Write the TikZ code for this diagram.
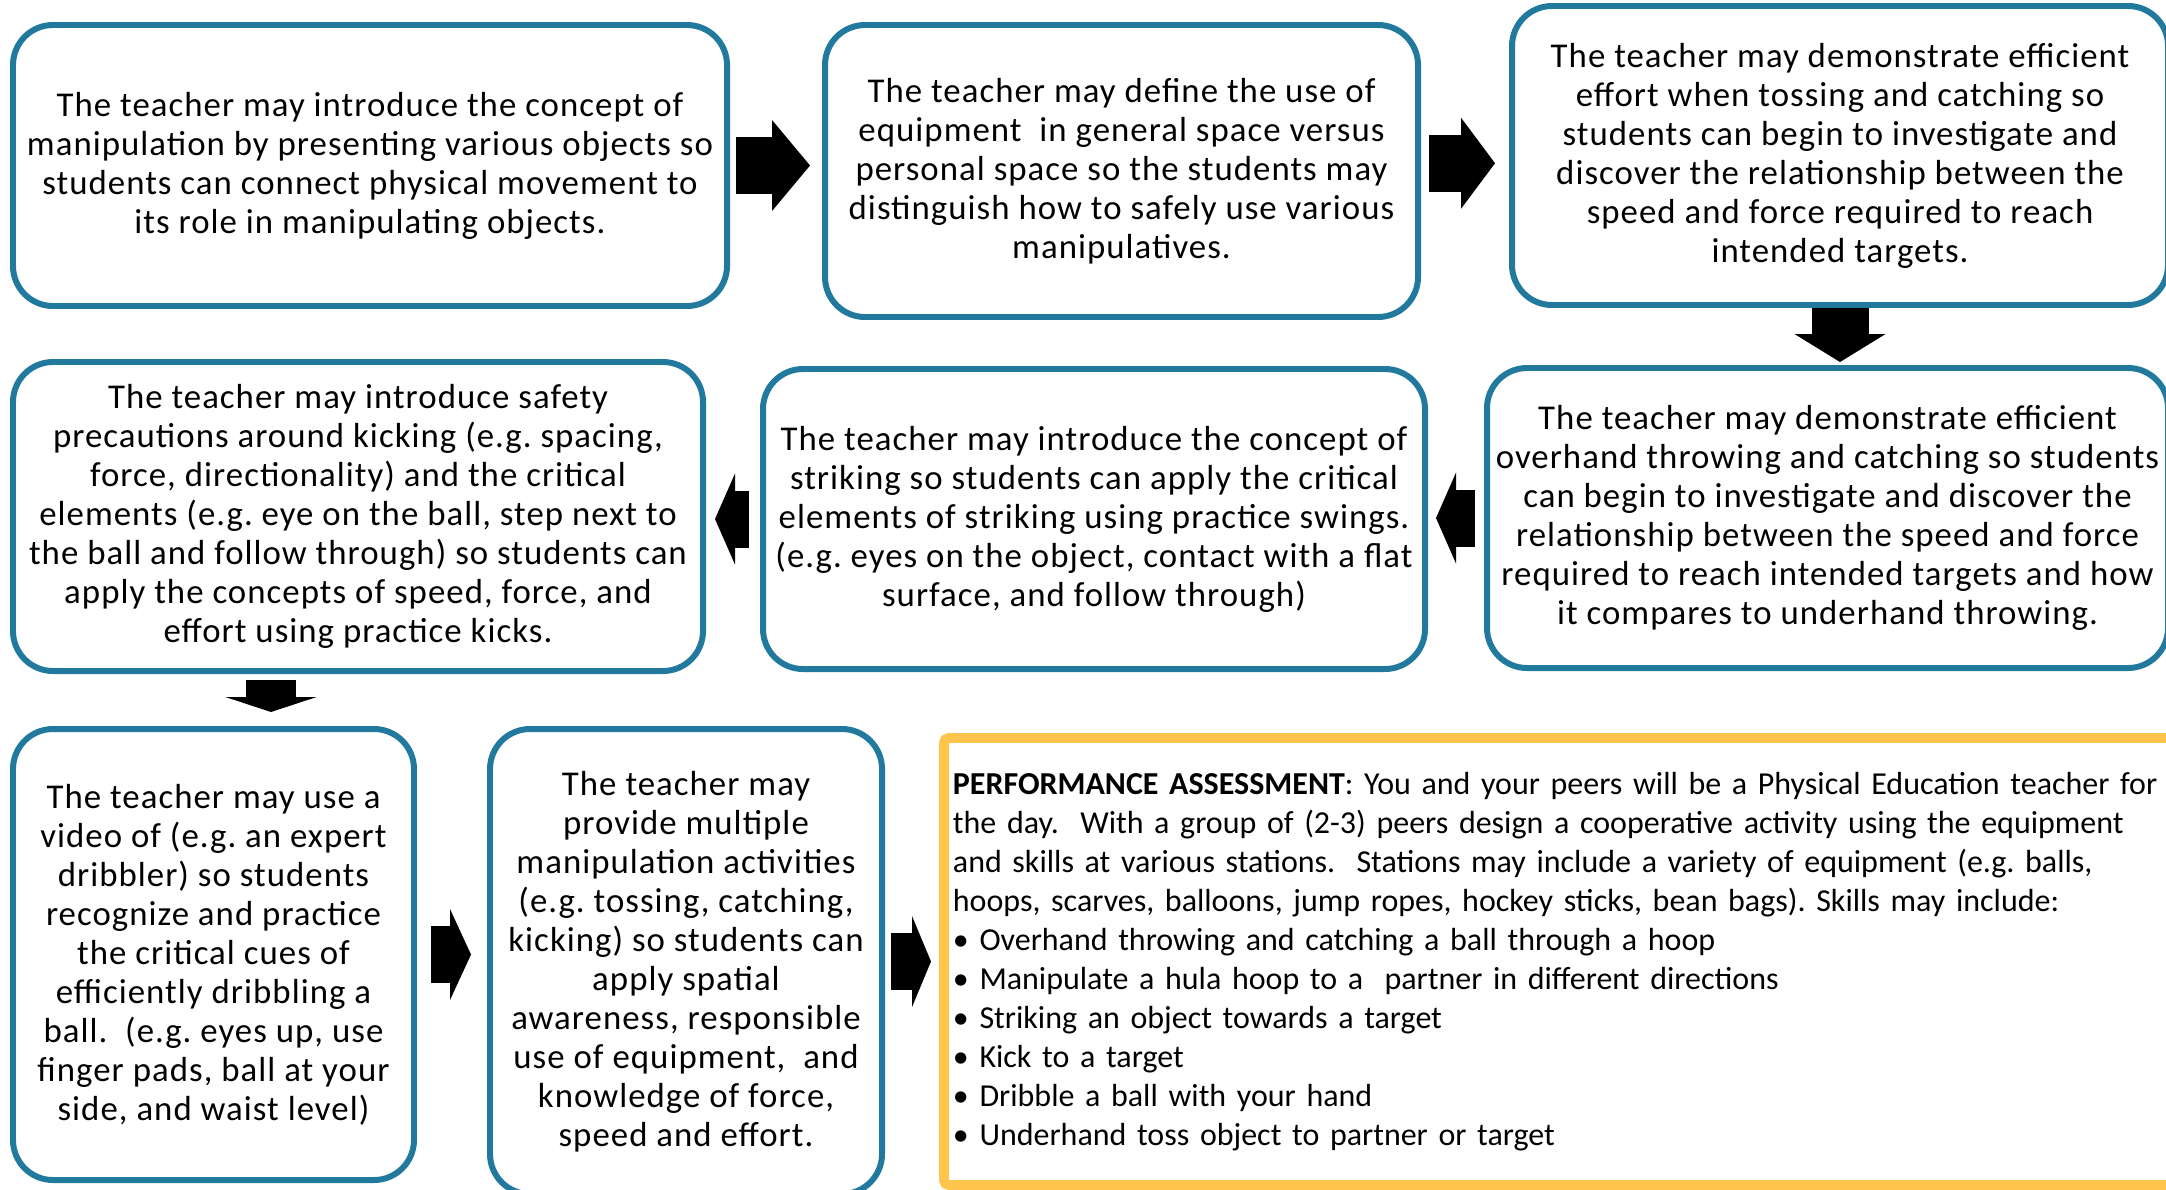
\documentclass[tikz,border=0pt]{standalone}
\usepackage{fontspec}
\setmainfont{Carlito}[LetterSpace=3]
\newfontfamily\taskfont{Carlito}
\frenchspacing
\usetikzlibrary{arrows.meta,calc}

\definecolor{boxblue}{RGB}{33,121,158}
\definecolor{boxyellow}{RGB}{255,196,75}

\begin{document}
\begin{tikzpicture}[
        stagebox/.style=
            {
                rectangle,
                draw = boxblue,
                line width = 1.7pt,
                fill = white,
                rounded corners = 0.4cm,
                align = center,
                inner sep = 0pt,
                font = \fontsize{9.9}{11.1}\selectfont
            },
        taskbox/.style=
            {
                rectangle,
                draw = boxyellow,
                line width = 2.8pt,
                fill = white,
                rounded corners = 0.05cm,
                align = left,
                inner xsep = 0.09cm,
                text width = 12.9cm,
                minimum height = 4.47cm,
                font = \taskfont\fontsize{9.1}{11.1}\selectfont
            },
        blockarrow/.style=
            {
                line width = 0.57cm,
                -{Triangle[length=#1, width=0.91cm, line width=0pt]}
            },
        blockarrow/.default = 0.22cm
    ]

    \useasboundingbox (0,0) rectangle (21.66,-11.89);
    \clip (0,0) rectangle (21.66,-11.89);

    % first row
    \draw (3.70,-1.655) node[stagebox, minimum width=7.14cm, minimum height=2.81cm] (A)
        {The teacher may introduce the concept of\\
         manipulation by presenting various objects so\\
         students can connect physical movement to\\
         its role in manipulating objects.};

    \draw (11.215,-1.71) node[stagebox, minimum width=5.93cm, minimum height=2.92cm] (B)
        {The teacher may define the use of\\
         equipment~ in general space versus\\
         personal space so the students may\\
         distinguish how to safely use various\\
         manipulatives.};

    \draw (18.40,-1.555) node[stagebox, minimum width=6.56cm, minimum height=2.99cm] (C)
        {The teacher may demonstrate efficient\\
         effort when tossing and catching so\\
         students can begin to investigate and\\
         discover the relationship between the\\
         speed and force required to reach\\
         intended targets.};

    % second row
    \draw (18.275,-5.18) node[stagebox, minimum width=6.81cm, minimum height=3.00cm] (D)
        {The teacher may demonstrate efficient\\
         overhand throwing and catching so students\\
         can begin to investigate and discover the\\
         relationship between the speed and force\\
         required to reach intended targets and how\\
         it compares to underhand throwing.};

    \draw (10.94,-5.19) node[stagebox, minimum width=6.62cm, minimum height=3.00cm] (E)
        {The teacher may introduce the concept of\\
         striking so students can apply the critical\\
         elements of striking using practice swings.\\
         (e.g. eyes on the object, contact with a flat\\
         surface, and follow through)};

    \draw (3.58,-5.165) node[stagebox, minimum width=6.90cm, minimum height=3.09cm] (F)
        {The teacher may introduce safety\\
         precautions around kicking (e.g. spacing,\\
         force, directionality) and the critical\\
         elements (e.g. eye on the ball, step next to\\
         the ball and follow through) so students can\\
         apply the concepts of speed, force, and\\
         effort using practice kicks.};

    % third row
    \draw (2.135,-9.545) node[stagebox, minimum width=4.01cm, minimum height=4.51cm] (G)
        {The teacher may use a\\
         video of (e.g. an expert\\
         dribbler) so students\\
         recognize and practice\\
         the critical cues of\\
         efficiently dribbling a\\
         ball.~ (e.g. eyes up, use\\
         finger pads, ball at your\\
         side, and waist level)};

    \draw (6.86,-9.615) node[stagebox, minimum width=3.92cm, minimum height=4.65cm] (H)
        {The teacher may\\
         provide multiple\\
         manipulation activities\\
         (e.g. tossing, catching,\\
         kicking) so students can\\
         apply spatial\\
         awareness, responsible\\
         use of equipment,~ and\\
         knowledge of force,\\
         speed and effort.};

    \draw (9.39,-9.615) node[taskbox, anchor=west] (I)
        {\textbf{PERFORMANCE ASSESSMENT}: You and your peers will be a Physical Education teacher for\\
         the day.~ With a group of (2-3) peers design a cooperative activity using the equipment\\
         and skills at various stations.~ Stations may include a variety of equipment (e.g. balls,\\
         hoops, scarves, balloons, jump ropes, hockey sticks, bean bags). Skills may include:\\
         • Overhand throwing and catching a ball through a hoop\\
         • Manipulate a hula hoop to a~ partner in different directions\\
         • Striking an object towards a target\\
         • Kick to a target\\
         • Dribble a ball with your hand\\
         • Underhand toss object to partner or target};

    % arrows
    \coordinate (bc) at ($(B.east)!0.5!(C.west)$);
    \coordinate (fg) at ($(F.south west)!0.375!(F.south east)$);

    \draw[blockarrow=0.38cm, shorten <=0.06cm, shorten >=0.12cm] (A.east) -- (A.east -| B.west);
    \draw[blockarrow=0.34cm, shorten <=0.08cm, shorten >=0.14cm] (bc -| B.east) -- (bc -| C.west);
    \draw[blockarrow=0.28cm, shorten >=0.03cm] (C.south) -- (C.south |- D.north);
    \draw[blockarrow=0.20cm, shorten <=0.09cm, shorten >=0.08cm] (D.west) -- (D.west -| E.east);
    \draw[blockarrow=0.20cm, shorten <=0.11cm, shorten >=0.09cm] (E.west) -- (E.west -| F.east);
    \draw[blockarrow=0.15cm, line width=0.5cm, shorten <=0.06cm, shorten >=0.14cm] (fg) -- (fg |- G.north);
    \draw[blockarrow=0.21cm, shorten <=0.14cm, shorten >=0.16cm] (G.east) -- (G.east -| H.west);
    \draw[blockarrow=0.19cm, shorten <=0.06cm, shorten >=0.08cm] (H.east) -- (H.east -| I.west);

\end{tikzpicture}
\end{document}
